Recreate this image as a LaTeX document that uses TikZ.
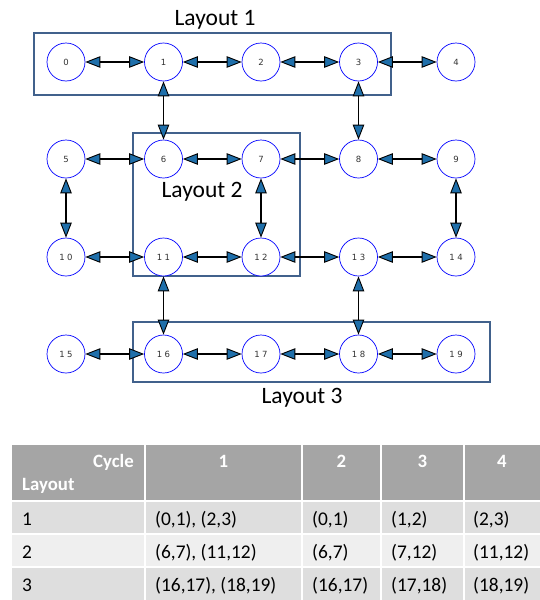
\documentclass[tikz,border=0pt]{standalone}
\usepackage{fontspec}
\setmainfont{Carlito}
\newfontfamily\numfont{DejaVu Sans}
\usetikzlibrary{arrows.meta}
\definecolor{boxblue}{HTML}{41618C}
\definecolor{tipblue}{HTML}{1F6FAA}
\definecolor{hdrgray}{HTML}{A5A5A5}
\definecolor{rowdark}{HTML}{DEDEDE}
\definecolor{rowlight}{HTML}{EFEFEF}
\begin{document}
\begin{tikzpicture}[x=1pt,y=-1pt,
  vtx/.style={circle, draw=blue, fill=white, line width=0.7pt, minimum size=38pt, inner sep=0pt,
    font=\numfont\fontsize{8.5}{9}\selectfont, text=black!80},
  tip/.tip={Triangle[length=15pt,width=11.5pt,fill=tipblue,line width=0.9pt]},
  link/.style={line width=1.8pt, tip-tip},
  layoutbox/.style={draw=boxblue, line width=2.5pt},
  layoutlbl/.style={anchor=base, inner sep=0pt, font=\fontsize{23.5}{28}\selectfont},
  hdr/.style={anchor=base, inner sep=0pt, text=white, font=\bfseries\fontsize{18.8}{22}\selectfont},
  cell/.style={anchor=base west, inner sep=0pt, font=\fontsize{19.4}{23}\selectfont},
  sep/.style={draw=white, line width=2pt}
]
\useasboundingbox (0,0) rectangle (540,600);

% layout boxes
\draw[layoutbox] (34,33) rectangle (391,95);
\draw[layoutbox] (133,133) rectangle (300,276);
\draw[layoutbox] (133,322) rectangle (490,382);
\node[layoutlbl] (L1) at (215,25) {Layout 1};
\node[layoutlbl] (L2) at (202,197) {Layout 2};
\node[layoutlbl] (L3) at (302,403) {Layout 3};

% vertices
\node[vtx] (n0) at (66,62) {0};
\node[vtx] (n1) at (163.5,62) {1};
\node[vtx] (n2) at (261,62) {2};
\node[vtx] (n3) at (358.5,62) {3};
\node[vtx] (n4) at (456,62) {4};
\node[vtx] (n5) at (66,159) {5};
\node[vtx] (n6) at (163.5,159) {6};
\node[vtx] (n7) at (261,159) {7};
\node[vtx] (n8) at (358.5,159) {8};
\node[vtx] (n9) at (456,159) {9};
\node[vtx] (n10) at (66,257) {1\kern2.5pt0};
\node[vtx] (n11) at (163.5,257) {1\kern2.5pt1};
\node[vtx] (n12) at (261,257) {1\kern2.5pt2};
\node[vtx] (n13) at (358.5,257) {1\kern2.5pt3};
\node[vtx] (n14) at (456,257) {1\kern2.5pt4};
\node[vtx] (n15) at (66,354) {1\kern2.5pt5};
\node[vtx] (n16) at (163.5,354) {1\kern2.5pt6};
\node[vtx] (n17) at (261,354) {1\kern2.5pt7};
\node[vtx] (n18) at (358.5,354) {1\kern2.5pt8};
\node[vtx] (n19) at (456,354) {1\kern2.5pt9};

% connectors
\foreach \a/\b in {0/1,1/2,2/3,3/4,5/6,6/7,7/8,8/9,10/11,11/12,12/13,13/14,15/16,16/17,17/18,18/19,
                   1/6,3/8,5/10,7/12,9/14,11/16,13/18}
  \draw[link] (n\a) -- (n\b);

% table
\fill[hdrgray] (12,445) rectangle (540,500);
\fill[rowdark] (12,502) rectangle (540,534);
\fill[rowlight] (12,534) rectangle (540,567);
\fill[rowdark] (12,567) rectangle (540,600);
\draw[sep] (12,501) -- (540,501);
\draw[sep, line width=1.5pt] (12,534) -- (540,534);
\draw[sep, line width=1.5pt] (12,567) -- (540,567);
\foreach \xx in {145,302,381,464}
  \draw[sep] (\xx,445) -- (\xx,600);

\node[hdr, anchor=base east] (hcycle) at (134,467) {Cycle};
\node[hdr, anchor=base west] (hlayout) at (22,490) {Layout};
\node[hdr] (h1) at (223.5,467) {1};
\node[hdr] (h2) at (341.5,467) {2};
\node[hdr] (h3) at (422.5,467) {3};
\node[hdr] (h4) at (502,467) {4};

\node[cell] (r1c0) at (22,525) {1};
\node[cell] (r1c1) at (155,525) {(0,1), (2,3)};
\node[cell] (r1c2) at (312,525) {(0,1)};
\node[cell] (r1c3) at (391,525) {(1,2)};
\node[cell] (r1c4) at (473,525) {(2,3)};

\node[cell] (r2c0) at (22,558) {2};
\node[cell] (r2c1) at (155,558) {(6,7), (11,12)};
\node[cell] (r2c2) at (312,558) {(6,7)};
\node[cell] (r2c3) at (391,558) {(7,12)};
\node[cell] (r2c4) at (473,558) {(11,12)};

\node[cell] (r3c0) at (22,591) {3};
\node[cell] (r3c1) at (155,591) {(16,17), (18,19)};
\node[cell] (r3c2) at (312,591) {(16,17)};
\node[cell] (r3c3) at (391,591) {(17,18)};
\node[cell] (r3c4) at (473,591) {(18,19)};
\end{tikzpicture}
\end{document}
